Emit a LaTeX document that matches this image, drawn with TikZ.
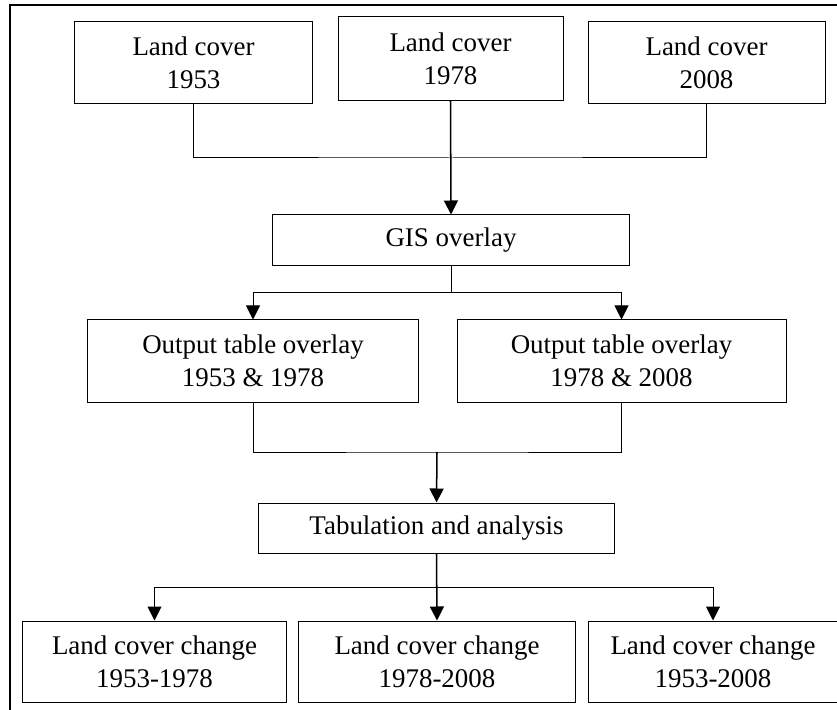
\documentclass[tikz,border=0pt]{standalone}
\usepackage{fontspec}
\setmainfont{Liberation Serif}
\usetikzlibrary{arrows.meta}

\begin{document}
\begin{tikzpicture}[x=0.03cm, y=-0.03cm, >={Triangle[width=0.42cm,length=0.42cm]},
    box/.style={draw, line width=0.85pt, align=center, inner sep=0pt,
        font=\fontsize{23}{28}\selectfont},
    link/.style={line width=0.85pt},
    flow/.style={line width=1.3pt, ->}]
    % 1. Khung ngoai
    \useasboundingbox (0,0) rectangle (837,710);
    \draw[line width=1pt] (10,5) rectangle (860,730);

    % 2. Ban do lop phu
    \node[box, minimum width=7.11cm, minimum height=2.43cm] (lc53) at (193.5,62.5) {Land cover\\1953};
    \node[box, minimum width=6.75cm, minimum height=2.49cm] (lc78) at (450.5,58.5) {Land cover\\1978};
    \node[box, minimum width=7.11cm, minimum height=2.43cm] (lc08) at (706.5,62.5) {Land cover\\2008};

    % 3. Chong lop GIS
    \node[box, minimum width=10.68cm, minimum height=1.5cm] (gis) at (451,240) {GIS overlay};
    \node[box, minimum width=9.9cm, minimum height=2.46cm] (ov1) at (253,361) {Output table overlay\\1953 \& 1978};
    \node[box, minimum width=9.87cm, minimum height=2.46cm] (ov2) at (621.5,361) {Output table overlay\\1978 \& 2008};

    % 4. Thong ke va bien dong
    \node[box, minimum width=10.65cm, minimum height=1.5cm] (tab) at (436.5,528) {Tabulation and analysis};
    \node[box, minimum width=7.89cm, minimum height=2.43cm] (ch1) at (154.5,661.5) {Land cover change\\1953-1978};
    \node[box, minimum width=8.28cm, minimum height=2.43cm] (ch2) at (437,661.5) {Land cover change\\1978-2008};
    \node[box, minimum width=7.5cm, minimum height=2.43cm] (ch3) at (713,661.5) {Land cover change\\1953-2008};

    % 5. Diem re nhanh
    \coordinate (m1) at (451,158);
    \coordinate (s1) at (451,292);
    \coordinate (m2) at (437,452);
    \coordinate (s2) at (437,587);

    % 6. Duong noi
    \draw[link] (lc53.south) |- (m1) -| (lc08.south);
    \draw[flow] (lc78.south) -- (gis.north);
    \draw[link] (gis.south) -- (s1);
    \draw[link, ->] (s1) -| (ov1.north);
    \draw[link, ->] (s1) -| (ov2.north);
    \draw[link] (ov1.south) |- (m2) -| (ov2.south);
    \draw[flow] (m2) -- (tab.north);
    \draw[link, ->] (s2) -| (ch1.north);
    \draw[link, ->] (s2) -| (ch3.north);
    \draw[flow] (tab.south) -- (ch2.north);
\end{tikzpicture}
\end{document}
